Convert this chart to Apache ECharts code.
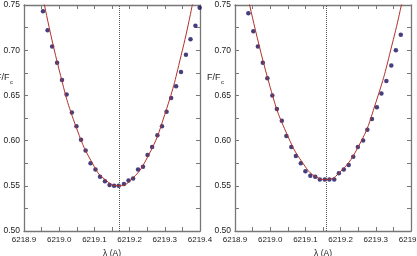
<!DOCTYPE html>
<html>
<head>
<meta charset="utf-8">
<script src="https://cdn.jsdelivr.net/npm/echarts@6/dist/echarts.min.js"></script>
<style>
  html, body { margin: 0; padding: 0; background: #fff; }
  #chart { width: 417px; height: 256px; }
</style>
</head>
<body>
<div id="chart"></div>
<script>
// left panel: observed profile
const lamL = [6218.954, 6218.967, 6218.980, 6218.994, 6219.008, 6219.021, 6219.036, 6219.049, 6219.062, 6219.075,
              6219.089, 6219.103, 6219.116, 6219.130, 6219.143, 6219.156, 6219.169, 6219.184, 6219.197, 6219.210,
              6219.224, 6219.238, 6219.251, 6219.264, 6219.279, 6219.292, 6219.305, 6219.318, 6219.332, 6219.346,
              6219.360, 6219.373, 6219.387, 6219.399];
const fluxL = [0.743, 0.722, 0.704, 0.686, 0.667, 0.651, 0.631, 0.616, 0.601, 0.589,
               0.575, 0.568, 0.560, 0.555, 0.551, 0.550, 0.550, 0.552, 0.556, 0.558,
               0.568, 0.571, 0.584, 0.593, 0.606, 0.616, 0.632, 0.647, 0.660, 0.676,
               0.695, 0.712, 0.727, 0.747];
// left panel: fitted curve
const fitLamL = [6218.950, 6219.000, 6219.050, 6219.100, 6219.130, 6219.168, 6219.200, 6219.250, 6219.300, 6219.350, 6219.385];
const fitL    = [0.766, 0.678, 0.613, 0.571, 0.557, 0.550, 0.555, 0.581, 0.629, 0.700, 0.764];
const centerL = 6219.168;

// right panel
const lamR = [6218.938, 6218.952, 6218.965, 6218.979, 6218.992, 6219.006, 6219.019, 6219.033, 6219.046, 6219.060,
              6219.073, 6219.087, 6219.100, 6219.114, 6219.128, 6219.141, 6219.155, 6219.168, 6219.182, 6219.195,
              6219.209, 6219.223, 6219.236, 6219.249, 6219.264, 6219.276, 6219.289, 6219.303, 6219.316, 6219.330,
              6219.344, 6219.357, 6219.371];
const fluxR = [0.741, 0.721, 0.704, 0.686, 0.669, 0.650, 0.635, 0.622, 0.605, 0.593,
               0.583, 0.575, 0.566, 0.561, 0.560, 0.557, 0.557, 0.557, 0.557, 0.564,
               0.568, 0.573, 0.582, 0.593, 0.600, 0.612, 0.624, 0.637, 0.652, 0.666,
               0.683, 0.700, 0.717];
const fitLamR = [6218.935, 6219.000, 6219.050, 6219.100, 6219.130, 6219.157, 6219.190, 6219.250, 6219.300, 6219.350, 6219.380];
const fitR    = [0.762, 0.659, 0.605, 0.571, 0.560, 0.557, 0.562, 0.593, 0.642, 0.712, 0.764];
const centerR = 6219.157;

const xTicks = { min: 6218.9, max: 6219.4, interval: 0.1 };
const yTicks = { min: 0.50, max: 0.75, interval: 0.05 };

const frame = '#777';
const dotColor = '#150f5c';
const fitColor = '#b0302a';

function pairs(xs, ys) {
    return xs.map((x, i) => [x, ys[i]]);
}

function xAx(grid, pos) {
    return {
        type: 'value', gridIndex: grid, position: pos,
        min: xTicks.min, max: xTicks.max, interval: xTicks.interval,
        axisLine: { show: true, onZero: false, lineStyle: { color: frame, width: 1.3 } },
        axisTick: { show: true, inside: true, length: 4, lineStyle: { color: frame } },
        minorTick: { show: true, splitNumber: 2, length: 4, lineStyle: { color: frame } },
        splitLine: { show: false },
        axisLabel: {
            show: pos === 'bottom', fontSize: 8, color: '#222', margin: 5,
            fontFamily: 'Liberation Sans', formatter: v => v.toFixed(1)
        },
        name: pos === 'bottom' ? 'λ (A)' : '',
        nameLocation: 'middle', nameGap: 16,
        nameTextStyle: { fontSize: 8.5, color: '#222', fontFamily: 'Liberation Sans' }
    };
}

function yAx(grid, pos) {
    return {
        type: 'value', gridIndex: grid, position: pos,
        min: yTicks.min, max: yTicks.max, interval: yTicks.interval,
        axisLine: { show: true, onZero: false, lineStyle: { color: frame, width: 1.3 } },
        axisTick: { show: true, inside: true, length: 4, lineStyle: { color: frame } },
        minorTick: { show: true, splitNumber: 2, length: 4, lineStyle: { color: frame } },
        splitLine: { show: false },
        axisLabel: {
            show: pos === 'left', fontSize: 8.5, color: '#222', margin: 4,
            fontFamily: 'Liberation Sans', formatter: v => v.toFixed(2)
        }
    };
}

function panel(idx, lam, flux, fitLam, fit, center) {
    const xi = idx * 2, yi = idx * 2;
    return [
        {
            type: 'scatter', xAxisIndex: xi, yAxisIndex: yi,
            data: pairs(lam, flux), symbolSize: 4.5, z: 2,
            itemStyle: { color: dotColor }
        },
        {
            type: 'line', xAxisIndex: xi, yAxisIndex: yi,
            data: pairs(fitLam, fit), smooth: true, showSymbol: false, z: 3,
            lineStyle: { color: fitColor, width: 1 },
            markLine: {
                silent: true, symbol: 'none', label: { show: false },
                lineStyle: { color: '#555', type: 'dotted', width: 1 },
                data: [{ xAxis: center }]
            }
        }
    ];
}

const instance = echarts.init(document.getElementById('chart'));

let option = {
    animation: false,
    grid: [
        { left: 24, top: 5, width: 176, height: 226, outerBoundsMode: 'none' },
        { left: 235, top: 5, width: 176, height: 226, outerBoundsMode: 'none' }
    ],
    xAxis: [xAx(0, 'bottom'), xAx(0, 'top'), xAx(1, 'bottom'), xAx(1, 'top')],
    yAxis: [yAx(0, 'left'), yAx(0, 'right'), yAx(1, 'left'), yAx(1, 'right')],
    graphic: [
        { type: 'text', left: -4, top: 73, style: { text: 'F/F', fontSize: 9, fill: '#222', fontFamily: 'Liberation Sans' } },
        { type: 'text', left: 10, top: 79, style: { text: 'c', fontSize: 6, fill: '#222', fontFamily: 'Liberation Sans' } },
        { type: 'text', left: 207, top: 73, style: { text: 'F/F', fontSize: 9, fill: '#222', fontFamily: 'Liberation Sans' } },
        { type: 'text', left: 221, top: 79, style: { text: 'c', fontSize: 6, fill: '#222', fontFamily: 'Liberation Sans' } }
    ],
    series: [
        ...panel(0, lamL, fluxL, fitLamL, fitL, centerL),
        ...panel(1, lamR, fluxR, fitLamR, fitR, centerR)
    ]
};

instance.setOption(option);
</script>
</body>
</html>
